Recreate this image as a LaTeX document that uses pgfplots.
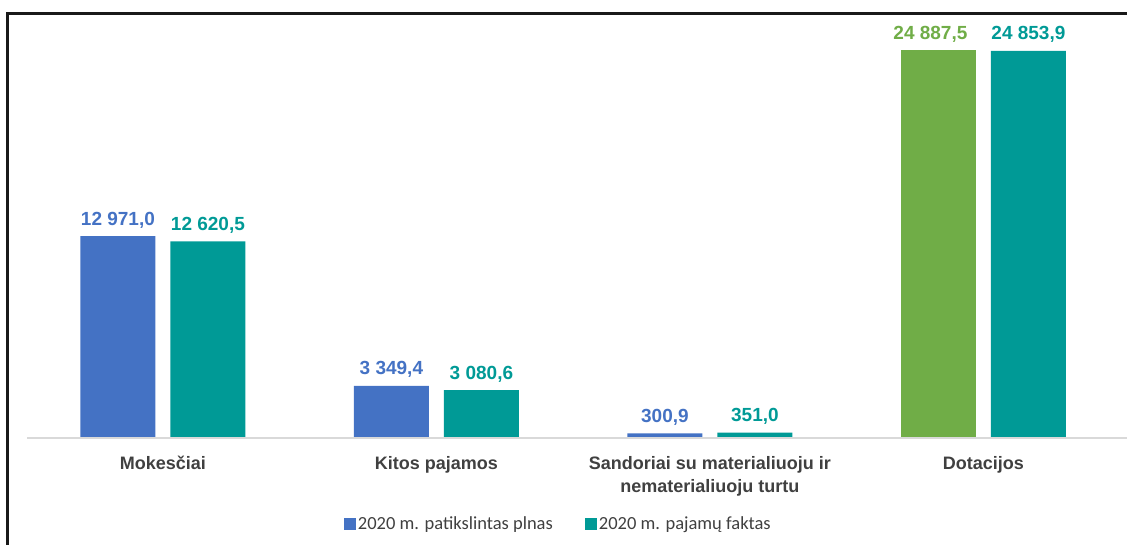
\documentclass[border=0pt]{standalone}
\usepackage{fontspec}
\setmainfont{Liberation Sans}
\newfontfamily\legfont{Carlito}
\usepackage{pgfplots}
\pgfplotsset{compat=1.18}
\definecolor{cblue}{HTML}{4472C4}
\definecolor{cteal}{HTML}{009A96}
\definecolor{cgreen}{HTML}{70AD47}
\definecolor{cgray}{HTML}{404040}
\definecolor{cline}{HTML}{D9D9D9}
\begin{document}
\begin{tikzpicture}
\begin{axis}[
  at={(27bp,107bp)}, anchor=south west,
  scale only axis, width=1100bp, height=436bp,
  xmin=-0.497, xmax=3.525, ymin=0, ymax=28000,
  axis line style={draw=none},
  ybar, bar width=75bp,
  xtick={0,1,2,3},
  xticklabels={Mokesčiai, Kitos pajamos, {Sandoriai su materialiuoju ir\\nematerialiuoju turtu}, Dotacijos},
  xticklabel style={font=\fontsize{18bp}{23bp}\selectfont\bfseries, text=cgray, align=center, yshift=-15bp},
  ytick=\empty, major tick length=0pt,
  nodes near coords, point meta=explicit symbolic,
  every node near coord/.append style={font=\fontsize{19bp}{20bp}\selectfont\bfseries, anchor=base, yshift=11bp},
  clip=false,
  legend columns=2,
  legend style={draw=none, fill=none, font=\legfont\fontsize{18.5bp}{20bp}\selectfont, text=cgray,
    at={(0.483,-0.197)}, anchor=center,
    /tikz/every even column/.append style={column sep=30bp}},
]
\addplot[fill=cblue, draw=none, bar shift=-45bp,
  every node near coord/.append style={text=cblue},
  legend image code/.code={\fill[cblue] (0bp,-6bp) rectangle (12bp,6bp);}]
  coordinates {(0,12971) [12 971,0] (1,3349.4) [3 349,4] (2,300.9) [300,9]};
\addlegendentry{2020 m. patikslintas plnas}
\addplot[fill=cteal, draw=none, bar shift=45bp,
  every node near coord/.append style={text=cteal},
  legend image code/.code={\fill[cteal] (0bp,-6bp) rectangle (12bp,6bp);}]
  coordinates {(0,12620.5) [12 620,5] (1,3080.6) [3 080,6] (2,351.0) [351,0] (3,24853.9) [24 853,9]};
\addlegendentry{2020 m. pajamų faktas}
\addplot[fill=cgreen, draw=none, bar shift=-45bp, forget plot,
  every node near coord/.append style={text=cgreen, xshift=-8bp}]
  coordinates {(3,24887.5) [24 887,5]};
\draw[cline, line width=1.2bp] (axis cs:-0.497,0) -- (axis cs:3.525,0);
\end{axis}
\draw[black!90, line width=2.2bp] (7.5bp,-5bp) -- (7.5bp,531.5bp) -- (1140bp,531.5bp);
\pgfresetboundingbox
\path (0,0) rectangle (1127bp,545bp);
\end{tikzpicture}
\end{document}
